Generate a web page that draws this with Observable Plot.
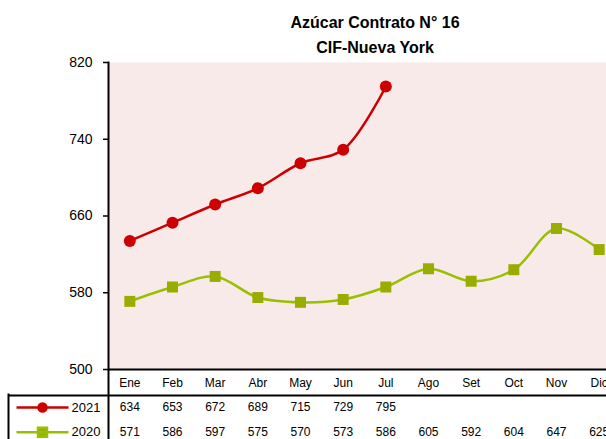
<!DOCTYPE html>
<html>
<head>
<meta charset="utf-8">
<script src="https://cdn.jsdelivr.net/npm/d3@7"></script>
<script src="https://cdn.jsdelivr.net/npm/@observablehq/plot@0.6"></script>
<style>
  html, body { margin: 0; padding: 0; background: #fff; overflow: hidden; width: 606px; height: 439px; }
  #wrap { position: relative; width: 620px; }
  #title { position: relative; height: 58px; width: 750px; text-align: center;
    font-family: "Liberation Sans", Arial, sans-serif; font-weight: bold; font-size: 16px; line-height: 25px; color: #000; }
  #title div:first-child { padding-top: 10px; }
  svg { display: block; overflow: visible; }
</style>
</head>
<body>
<div id="wrap">
  <div id="title"><div>Azúcar Contrato N° 16</div><div>CIF-Nueva York</div></div>
  <div id="chart"></div>
  <div id="table"></div>
</div>
<script>
const months = ["Ene","Feb","Mar","Abr","May","Jun","Jul","Ago","Set","Oct","Nov","Dic"];
const values2021 = [634, 653, 672, 689, 715, 729, 795];
const values2020 = [571, 586, 597, 575, 570, 573, 586, 605, 592, 604, 647, 625];
const yTicks = [500, 580, 660, 740, 820];
const seriesNames = ["2021", "2020"];

const red = "#cc0000";
const greenLine = "#99c000";
const greenMark = "#99ad00";
const bg = "#f9eaea";
const font = "'Liberation Sans', Arial, sans-serif";

const d2021 = values2021.map((v, i) => ({month: months[i], value: v}));
const d2020 = values2020.map((v, i) => ({month: months[i], value: v}));

const chart = Plot.plot({
  width: 620, height: 312,
  marginTop: 4, marginBottom: 1, marginLeft: 108, marginRight: 0,
  style: {fontFamily: font, fontSize: "12px", color: "#000", background: "transparent"},
  x: {type: "point", domain: months, padding: 0.5, round: false, axis: null},
  y: {domain: [500, 820], axis: null},
  marks: [
    Plot.frame({fill: bg, stroke: "none"}),
    Plot.axisY({ticks: yTicks, tickSize: 5, tickPadding: 11, fontSize: 14, strokeWidth: 1.5, label: null}),
    Plot.ruleY([500], {strokeWidth: 2}),
    Plot.frame({anchor: "left", strokeWidth: 2}),
    Plot.line(d2020, {x: "month", y: "value", curve: "catmull-rom", stroke: greenLine, strokeWidth: 2.5}),
    Plot.dot(d2020, {x: "month", y: "value", symbol: "square", r: 6.2, fill: greenMark}),
    Plot.line(d2021, {x: "month", y: "value", curve: "catmull-rom", stroke: red, strokeWidth: 2.5}),
    Plot.dot(d2021, {x: "month", y: "value", symbol: "circle", r: 6, fill: red})
  ]
});
document.getElementById("chart").appendChild(chart);

// legend swatch symbols (line + marker)
const swatchCircle = {draw(ctx) { ctx.moveTo(-26, 0); ctx.lineTo(26, 0); ctx.moveTo(4, 0); ctx.arc(0, 0, 4, 0, 2 * Math.PI); }};
const swatchSquare = {draw(ctx) { ctx.moveTo(-26, 0); ctx.lineTo(26, 0); ctx.rect(-4.5, -4.5, 9, 9); }};

const monthRow = months.map(m => ({month: m, row: "m", label: m}));
const row2021 = values2021.map((v, i) => ({month: months[i], row: "2021", label: String(v)}));
const row2020 = values2020.map((v, i) => ({month: months[i], row: "2020", label: String(v)}));

const table = Plot.plot({
  width: 620, height: 74,
  marginTop: 0, marginBottom: 0, marginLeft: 108, marginRight: 0,
  style: {fontFamily: font, fontSize: "12px", color: "#000", background: "transparent"},
  x: {type: "point", domain: months, padding: 0.5, round: false, axis: null},
  y: {type: "point", domain: ["m", ...seriesNames], padding: 0.5, round: false, axis: null},
  marks: [
    Plot.frame({anchor: "left", strokeWidth: 2}),
    Plot.ruleY(["2021"], {dy: -12, insetLeft: -100, strokeWidth: 2}),
    Plot.frame({anchor: "left", dx: -100, insetTop: 24, strokeWidth: 2}),
    Plot.text(monthRow, {x: "month", y: "row", text: "label", fontSize: 12}),
    Plot.text(row2021, {x: "month", y: "row", text: "label", fontSize: 12}),
    Plot.text(row2020, {x: "month", y: "row", text: "label", fontSize: 12}),
    Plot.text(seriesNames, {y: d => d, text: d => d, frameAnchor: "left", dx: -8, textAnchor: "end", fontSize: 13}),
    Plot.dot(["2021"], {y: d => d, frameAnchor: "left", dx: -66, symbol: swatchCircle, fill: red, stroke: red, strokeWidth: 2.5}),
    Plot.dot(["2020"], {y: d => d, frameAnchor: "left", dx: -66, symbol: swatchSquare, fill: greenMark, stroke: greenLine, strokeWidth: 2.5})
  ]
});
document.getElementById("table").appendChild(table);
</script>
</body>
</html>
